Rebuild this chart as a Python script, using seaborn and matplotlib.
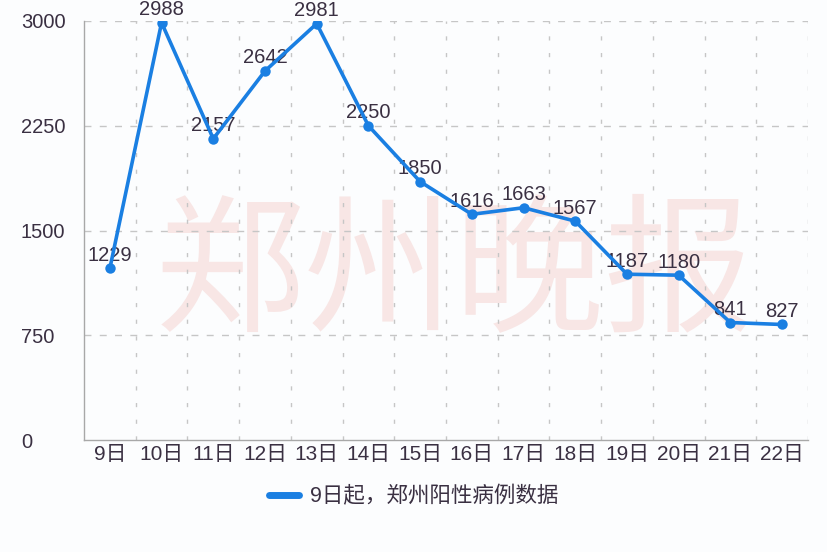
import matplotlib
matplotlib.use("Agg")
import matplotlib.pyplot as plt
import matplotlib.transforms as mtransforms
import seaborn as sns
import pandas as pd
from matplotlib.lines import Line2D

days = ["9日", "10日", "11日", "12日", "13日", "14日", "15日", "16日", "17日", "18日", "19日", "20日", "21日", "22日"]
cases = [1229, 2988, 2157, 2642, 2981, 2250, 1850, 1616, 1663, 1567, 1187, 1180, 841, 827]
yticks = [0, 750, 1500, 2250, 3000]
series_name = "9日起，郑州阳性病例数据"
watermark = "郑州晚报"

sns.set_theme(style="white")
fam = ['Liberation Sans', 'Noto Sans CJK SC', 'DejaVu Sans']
plt.rcParams['font.family'] = fam

text_color = "#3a3042"
line_color = "#1a7fe2"
grid_color = "#c6c6c6"
bg = "#fcfdfe"

df = pd.DataFrame({"day": days, "cases": cases})
df["x"] = range(len(days))

fig = plt.figure(figsize=(8.28, 5.52), dpi=100, facecolor=bg)
ax = fig.add_axes([84/828, 1-440/552, (808-84)/828, (440-21)/552])
ax.set_facecolor(bg)

# watermark
ax.text(0.512, 0.39, watermark, transform=ax.transAxes, ha="center", va="center",
        fontsize=108, color="#f2c4c0", alpha=0.4, fontweight="normal",
        family=['Noto Sans CJK SC'], zorder=0)

sns.lineplot(data=df, x="x", y="cases", ax=ax, color=line_color, linewidth=2.6,
             marker="o", markersize=7.5, markeredgewidth=0, zorder=3)

for xi, v in zip(df["x"], df["cases"]):
    ax.annotate(str(v), (xi, v), xytext=(0, 5.5), textcoords="offset points",
                ha="center", va="baseline", fontsize=14.5, color=text_color, zorder=2)

n = len(days)
ax.set_xlim(-0.5, n - 0.5)
ax.set_ylim(0, 3000)
ax.set_xticks(range(n))
ax.set_xticklabels(days)
ax.set_yticks(yticks)
ax.set_yticklabels([])

for b in [i + 0.5 for i in range(n)]:
    ax.axvline(b, color=grid_color, linestyle=(0, (3, 9)), linewidth=1, zorder=1)
for t in yticks[1:]:
    ax.axhline(t, color=grid_color, linestyle=(0, (5, 6)), linewidth=1, zorder=1)

# y tick labels, left aligned
ytrans = mtransforms.blended_transform_factory(fig.transFigure, ax.transData)
for t in yticks:
    ax.text(21/828, t, str(t), transform=ytrans, ha="left", va="center_baseline",
            fontsize=14.5, color=text_color, clip_on=False)

ax.tick_params(axis="x", which="major", length=0, pad=3.5, labelsize=15, colors=text_color)
ax.tick_params(axis="y", length=0)

ax.set_xlabel("")
ax.set_ylabel("")
for s in ["top", "right"]:
    ax.spines[s].set_visible(False)
for s in ["left", "bottom"]:
    ax.spines[s].set_color("#a8a8a8")
    ax.spines[s].set_linewidth(1)

handle = Line2D([0], [0], color=line_color, linewidth=5)
fig.legend([handle], [series_name], loc="center", bbox_to_anchor=(0.4994, 1-497/552),
           frameon=False, fontsize=15.5, labelcolor=text_color, handlelength=1.4,
           handletextpad=0.5)

fig.savefig("out.png", dpi=100, facecolor=fig.get_facecolor())
